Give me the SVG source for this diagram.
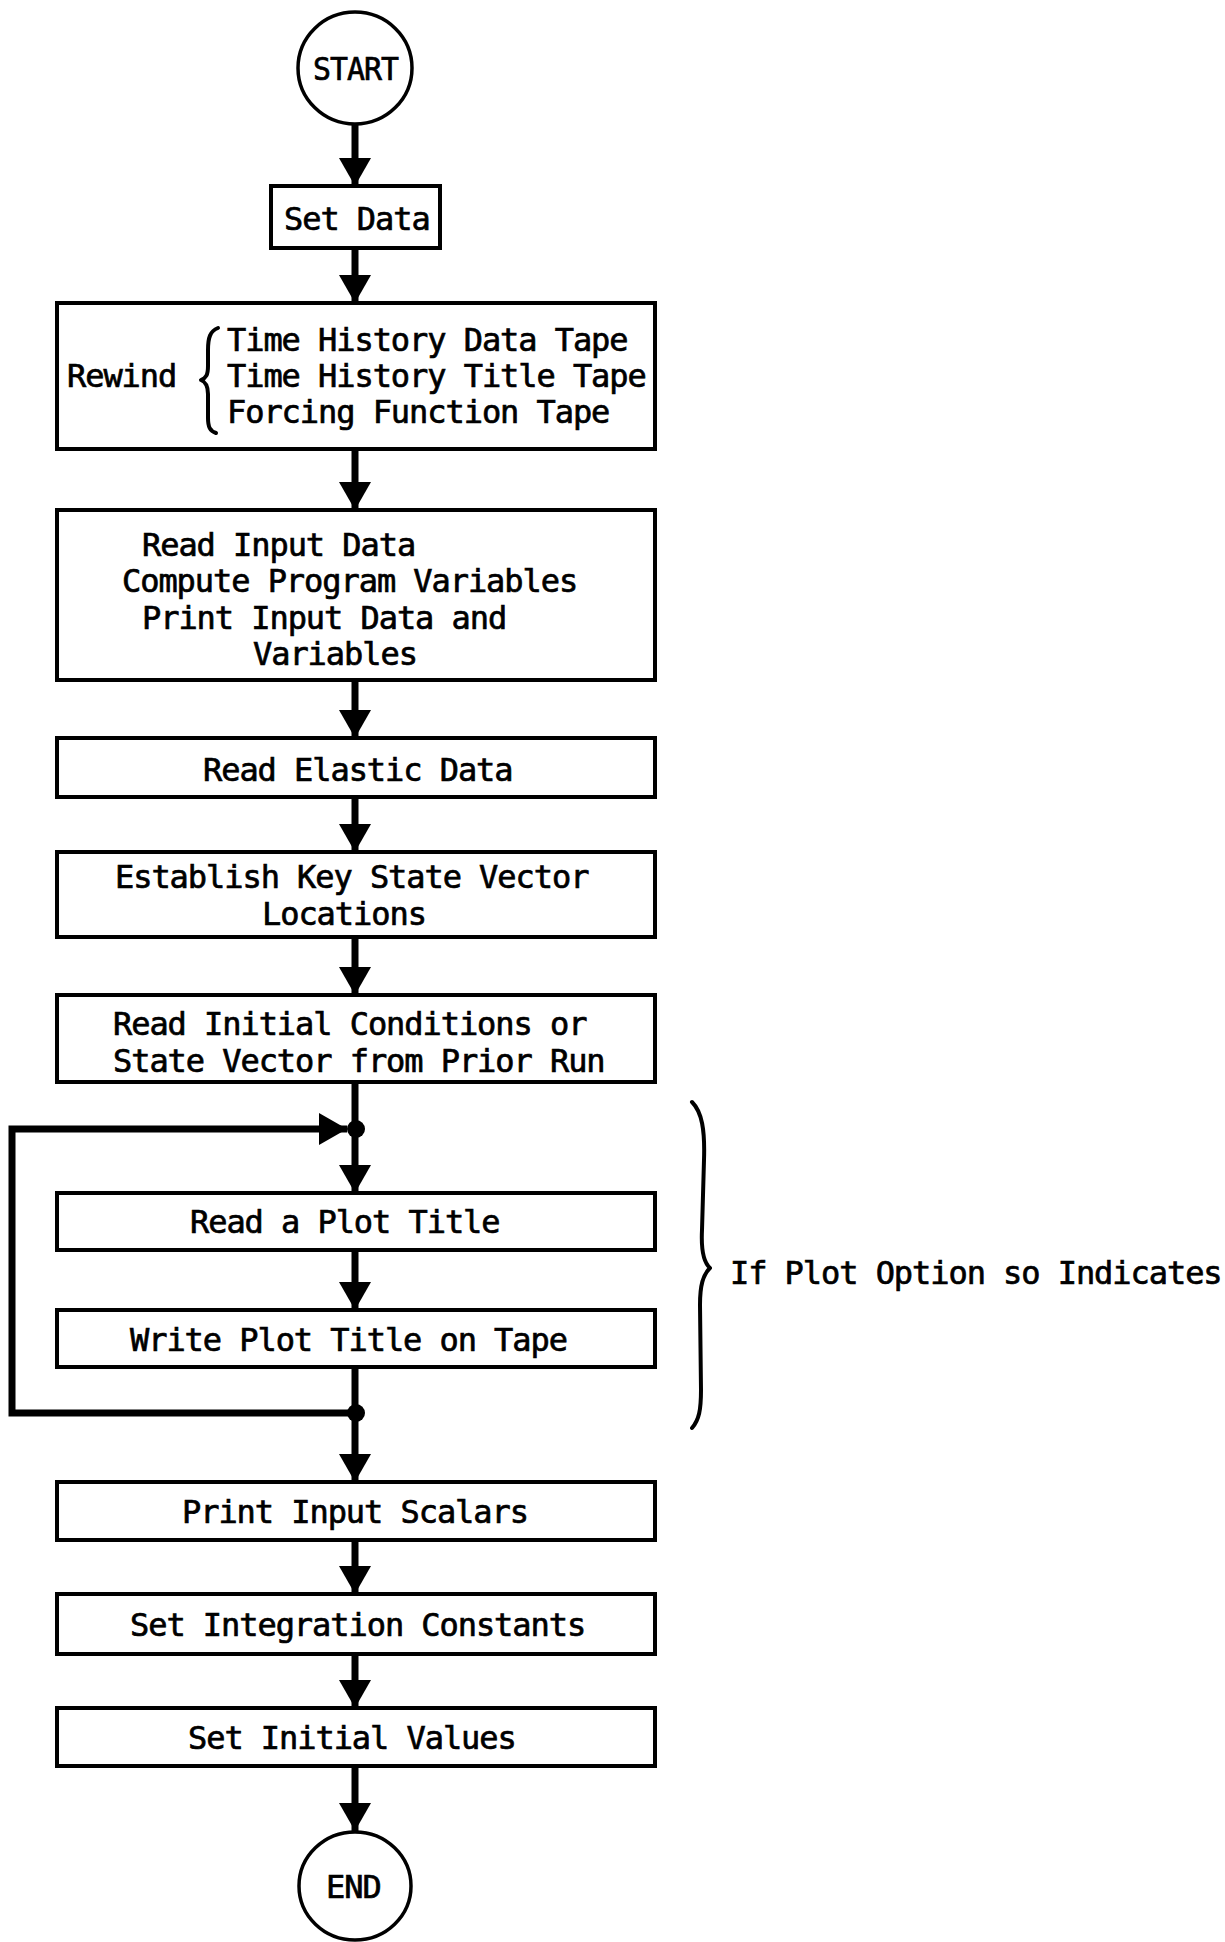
<svg xmlns="http://www.w3.org/2000/svg" width="1225" height="1942" viewBox="0 0 1225 1942">
<defs>
<style>
.box{fill:#fff;stroke:#000;stroke-width:4}
.term{fill:#fff;stroke:#000;stroke-width:3.5}
.t{font-family:"DejaVu Sans Mono","Liberation Mono",monospace;font-size:32px;letter-spacing:-1.06px;fill:#000;stroke:#000;stroke-width:0.7}
.c{fill:none;stroke:#000;stroke-width:7}
.br{fill:none;stroke:#000;stroke-width:4;stroke-linecap:round;stroke-linejoin:round}
</style>
<marker id="ah" viewBox="0 0 28 32" refX="28" refY="16" markerWidth="28" markerHeight="32" orient="auto" markerUnits="userSpaceOnUse">
<path d="M0,0 L28,16 L0,32 z" fill="#000"/>
</marker>
</defs>
<rect width="1225" height="1942" fill="#fff"/>

<g id="connectors">
<line class="c" x1="355" y1="124" x2="355" y2="186" marker-end="url(#ah)"/>
<line class="c" x1="355" y1="248" x2="355" y2="303" marker-end="url(#ah)"/>
<line class="c" x1="355" y1="449" x2="355" y2="510" marker-end="url(#ah)"/>
<line class="c" x1="355" y1="680" x2="355" y2="738" marker-end="url(#ah)"/>
<line class="c" x1="355" y1="797" x2="355" y2="852" marker-end="url(#ah)"/>
<line class="c" x1="355" y1="937" x2="355" y2="995" marker-end="url(#ah)"/>
<line class="c" x1="355" y1="1082" x2="355" y2="1193" marker-end="url(#ah)"/>
<line class="c" x1="355" y1="1250" x2="355" y2="1310" marker-end="url(#ah)"/>
<line class="c" x1="355" y1="1367" x2="355" y2="1482" marker-end="url(#ah)"/>
<path class="c" d="M355,1413 H12 V1129 H347" marker-end="url(#ah)"/>
<circle cx="356" cy="1129" r="9" fill="#000"/>
<circle cx="356" cy="1413" r="9" fill="#000"/>
<line class="c" x1="355" y1="1540" x2="355" y2="1594" marker-end="url(#ah)"/>
<line class="c" x1="355" y1="1654" x2="355" y2="1708" marker-end="url(#ah)"/>
<line class="c" x1="355" y1="1766" x2="355" y2="1831" marker-end="url(#ah)"/>
</g>

<g id="start">
<ellipse class="term" cx="355" cy="68" rx="57" ry="56"/>
<text class="t" x="313" y="80" textLength="85" lengthAdjust="spacingAndGlyphs">START</text>
</g>

<g id="set-data">
<rect class="box" x="271" y="186" width="169" height="62"/>
<text class="t" x="284" y="230">Set Data</text>
</g>

<g id="rewind">
<rect class="box" x="57" y="303" width="598" height="146"/>
<text class="t" x="67" y="387">Rewind</text>
<path class="br" d="M218,328 C210,331 208,338 208,350 L208,366 C208,375 206,378 201,380 C206,382 208,386 208,394 L208,418 C208,427 210,431 216,433"/>
<text class="t" x="227" y="351">Time History Data Tape</text>
<text class="t" x="227" y="387">Time History Title Tape</text>
<text class="t" x="227" y="423">Forcing Function Tape</text>
</g>

<g id="read-input">
<rect class="box" x="57" y="510" width="598" height="170"/>
<text class="t" x="142" y="556">Read Input Data</text>
<text class="t" x="122" y="592">Compute Program Variables</text>
<text class="t" x="142" y="629">Print Input Data and</text>
<text class="t" x="253" y="665">Variables</text>
</g>

<g id="read-elastic">
<rect class="box" x="57" y="738" width="598" height="59"/>
<text class="t" x="203" y="781">Read Elastic Data</text>
</g>

<g id="establish">
<rect class="box" x="57" y="852" width="598" height="85"/>
<text class="t" x="115" y="888">Establish Key State Vector</text>
<text class="t" x="262" y="925">Locations</text>
</g>

<g id="read-initial">
<rect class="box" x="57" y="995" width="598" height="87"/>
<text class="t" x="113" y="1035">Read Initial Conditions or</text>
<text class="t" x="113" y="1072">State Vector from Prior Run</text>
</g>

<g id="read-plot-title">
<rect class="box" x="57" y="1193" width="598" height="57"/>
<text class="t" x="190" y="1233">Read a Plot Title</text>
</g>

<g id="write-plot-title">
<rect class="box" x="57" y="1310" width="598" height="57"/>
<text class="t" x="130" y="1351">Write Plot Title on Tape</text>
</g>

<g id="plot-option-note">
<path class="br" d="M692,1102 C702,1112 705,1130 704,1160 L702,1230 C701,1250 703,1262 710,1268 C703,1275 700,1285 700,1305 L701,1390 C701,1410 699,1420 692,1428"/>
<text class="t" x="730" y="1284">If Plot Option so Indicates</text>
</g>

<g id="print-input-scalars">
<rect class="box" x="57" y="1482" width="598" height="58"/>
<text class="t" x="182" y="1523">Print Input Scalars</text>
</g>

<g id="set-integration">
<rect class="box" x="57" y="1594" width="598" height="60"/>
<text class="t" x="130" y="1636">Set Integration Constants</text>
</g>

<g id="set-initial">
<rect class="box" x="57" y="1708" width="598" height="58"/>
<text class="t" x="188" y="1749">Set Initial Values</text>
</g>

<g id="end">
<ellipse class="term" cx="355" cy="1886" rx="56" ry="54"/>
<text class="t" x="326" y="1898">END</text>
</g>
</svg>
